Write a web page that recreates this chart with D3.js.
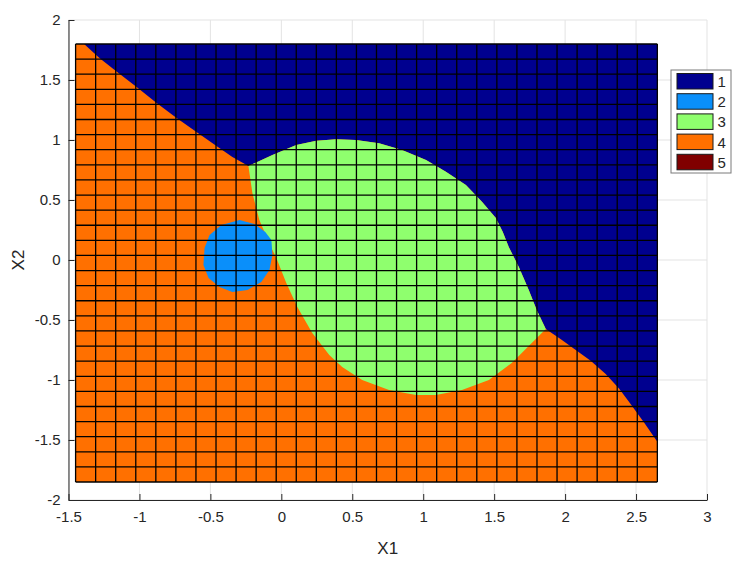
<!DOCTYPE html>
<html>
<head>
<meta charset="utf-8">
<script src="https://cdn.jsdelivr.net/npm/d3@7"></script>
<style>
  html, body { margin: 0; padding: 0; background: #fff; }
  svg { display: block; font-family: "Liberation Sans", Arial, Helvetica, sans-serif; }
</style>
</head>
<body>
<svg id="chart" width="747" height="563"></svg>
<script>
// ---------- data ----------
const classes = ["1", "2", "3", "4", "5"];
const classColors = ["#00008F", "#0A8FFA", "#8FFF6E", "#FF7000", "#800000"];

const xTicks = [-1.5, -1, -0.5, 0, 0.5, 1, 1.5, 2, 2.5, 3];
const yTicks = [-2, -1.5, -1, -0.5, 0, 0.5, 1, 1.5, 2];
const xTickLabels = ["-1.5", "-1", "-0.5", "0", "0.5", "1", "1.5", "2", "2.5", "3"];
const yTickLabels = ["-2", "-1.5", "-1", "-0.5", "0", "0.5", "1", "1.5", "2"];

// evaluation grid extent and size (30 x 30 mesh points)
const gridExtentX = [-1.45, 2.65];
const gridExtentY = [-1.85, 1.8];
const gridPoints = 30;

// class 1 / class 4 boundary (upper left), from top edge to triple point
const boundary14a = [
  [-1.39, 1.80], [-1.280, 1.681], [-1.157, 1.567], [-1.020, 1.442], [-0.879, 1.308],
  [-0.738, 1.183], [-0.598, 1.067], [-0.457, 0.950], [-0.345, 0.858], [-0.232, 0.783]
];
// class 1 / class 3 boundary
const boundary13 = [
  [-0.232, 0.783], [-0.063, 0.875], [0.105, 0.958], [0.246, 0.994], [0.387, 1.006],
  [0.527, 1.000], [0.689, 0.973], [0.851, 0.917], [1.020, 0.833], [1.160, 0.736],
  [1.301, 0.625], [1.414, 0.486], [1.512, 0.350], [1.561, 0.233], [1.603, 0.108],
  [1.674, -0.058], [1.744, -0.250], [1.800, -0.417], [1.864, -0.575]
];
// class 1 / class 4 boundary (lower right), from triple point to right edge
const boundary14b = [
  [1.864, -0.575], [1.970, -0.660], [2.075, -0.750], [2.180, -0.840], [2.286, -0.950],
  [2.380, -1.070], [2.468, -1.210], [2.560, -1.360], [2.65, -1.514]
];
// class 3 / class 4 boundary, from upper triple point round to lower triple point
const boundary34 = [
  [-0.232, 0.783], [-0.204, 0.558], [-0.155, 0.333], [-0.070, 0.100], [-0.035, 0.017],
  [0.035, -0.192], [0.113, -0.392], [0.218, -0.608], [0.338, -0.792], [0.429, -0.892],
  [0.570, -1.000], [0.759, -1.083], [0.949, -1.125], [1.090, -1.125], [1.273, -1.083],
  [1.463, -1.000], [1.624, -0.858], [1.765, -0.692], [1.864, -0.575]
];
// class 2 region outline
const region2 = [
  [-0.295, 0.333], [-0.190, 0.300], [-0.113, 0.233], [-0.070, 0.167], [-0.063, 0.042],
  [-0.084, -0.083], [-0.141, -0.183], [-0.239, -0.250], [-0.345, -0.267], [-0.436, -0.225],
  [-0.513, -0.150], [-0.549, -0.042], [-0.541, 0.100], [-0.506, 0.208], [-0.422, 0.292]
];

// ---------- layout ----------
const svg = d3.select("#chart");
const plot = { left: 68.5, right: 707, top: 20, bottom: 500 };
const x = d3.scaleLinear().domain([-1.5, 3]).range([plot.left, plot.right]);
const y = d3.scaleLinear().domain([-2, 2]).range([plot.bottom, plot.top]);
const axisColor = "#262626";
const line = d3.line().x(d => x(d[0])).y(d => y(d[1]));
const poly = pts => line(pts) + "Z";

// background grid lines (MATLAB style)
const gGrid = svg.append("g");
gGrid.selectAll("line.gx").data(xTicks).join("line")
  .attr("x1", d => x(d)).attr("x2", d => x(d))
  .attr("y1", plot.top).attr("y2", plot.bottom)
  .attr("stroke", "#e3e3e3").attr("stroke-width", 1);
gGrid.selectAll("line.gy").data(yTicks).join("line")
  .attr("y1", d => y(d)).attr("y2", d => y(d))
  .attr("x1", plot.left).attr("x2", plot.right)
  .attr("stroke", "#e3e3e3").attr("stroke-width", 1);

// ---------- class regions ----------
const gReg = svg.append("g");
gReg.append("rect")
  .attr("x", x(gridExtentX[0])).attr("y", y(gridExtentY[1]))
  .attr("width", x(gridExtentX[1]) - x(gridExtentX[0]))
  .attr("height", y(gridExtentY[0]) - y(gridExtentY[1]))
  .attr("fill", classColors[3]);
const region1 = boundary14a
  .concat(boundary13.slice(1))
  .concat(boundary14b.slice(1))
  .concat([[gridExtentX[1], gridExtentY[1]]]);
gReg.append("path").attr("d", poly(region1)).attr("fill", classColors[0]);
const region3 = boundary13.concat(boundary34.slice(0, -1).reverse());
gReg.append("path").attr("d", poly(region3)).attr("fill", classColors[2]);
gReg.append("path").attr("d", poly(region2)).attr("fill", classColors[1]);

// ---------- mesh lines ----------
const meshX = d3.range(gridPoints).map(i => gridExtentX[0] + i * (gridExtentX[1] - gridExtentX[0]) / (gridPoints - 1));
const meshY = d3.range(gridPoints).map(i => gridExtentY[0] + i * (gridExtentY[1] - gridExtentY[0]) / (gridPoints - 1));
const gMesh = svg.append("g");
gMesh.selectAll("line.mx").data(meshX).join("line")
  .attr("x1", d => x(d)).attr("x2", d => x(d))
  .attr("y1", y(gridExtentY[1])).attr("y2", y(gridExtentY[0]))
  .attr("stroke", "#000").attr("stroke-width", 1.3);
gMesh.selectAll("line.my").data(meshY).join("line")
  .attr("y1", d => y(d)).attr("y2", d => y(d))
  .attr("x1", x(gridExtentX[0])).attr("x2", x(gridExtentX[1]))
  .attr("stroke", "#000").attr("stroke-width", 1.3);

// ---------- axes ----------
const xAxis = d3.axisBottom(x).tickValues(xTicks).tickFormat((d, i) => xTickLabels[i])
  .tickSizeInner(-6).tickSizeOuter(0).tickPadding(11);
const yAxis = d3.axisLeft(y).tickValues(yTicks).tickFormat((d, i) => yTickLabels[i])
  .tickSizeInner(-6).tickSizeOuter(0).tickPadding(8);

const gx = svg.append("g").attr("transform", `translate(0,${plot.bottom})`).call(xAxis);
const gy = svg.append("g").attr("transform", `translate(${plot.left},0)`).call(yAxis);
[gx, gy].forEach(g => {
  g.attr("font-size", null).attr("font-family", null);
  g.select(".domain").attr("stroke", axisColor).attr("stroke-width", 1);
  g.selectAll(".tick line").attr("stroke", axisColor).attr("stroke-width", 1);
  g.selectAll(".tick text").attr("fill", axisColor)
    .style("font-size", "15px").style("font-family", "'Liberation Sans', Arial, sans-serif");
});

svg.append("text")
  .attr("x", (plot.left + plot.right) / 2).attr("y", 554)
  .attr("text-anchor", "middle").attr("fill", axisColor)
  .style("font-size", "17px").text("X1");
svg.append("text")
  .attr("transform", `translate(24,${(plot.top + plot.bottom) / 2}) rotate(-90)`)
  .attr("text-anchor", "middle").attr("fill", axisColor)
  .style("font-size", "17px").text("X2");

// ---------- legend ----------
const lg = svg.append("g").attr("transform", "translate(671,70)");
lg.append("rect").attr("x", 0).attr("y", 0).attr("width", 60).attr("height", 103)
  .attr("fill", "#fff").attr("stroke", "#7a7a7a").attr("stroke-width", 1);
const items = lg.selectAll("g.item").data(classes).join("g")
  .attr("transform", (d, i) => `translate(0,${3.5 + i * 20.2})`);
items.append("rect").attr("x", 6).attr("y", 0).attr("width", 36).attr("height", 15.5)
  .attr("fill", (d, i) => classColors[i]).attr("stroke", "#1a1a1a").attr("stroke-width", 1);
items.append("text").attr("x", 46.5).attr("y", 13.5)
  .attr("fill", axisColor).style("font-size", "15px").text(d => d);
</script>
</body>
</html>
